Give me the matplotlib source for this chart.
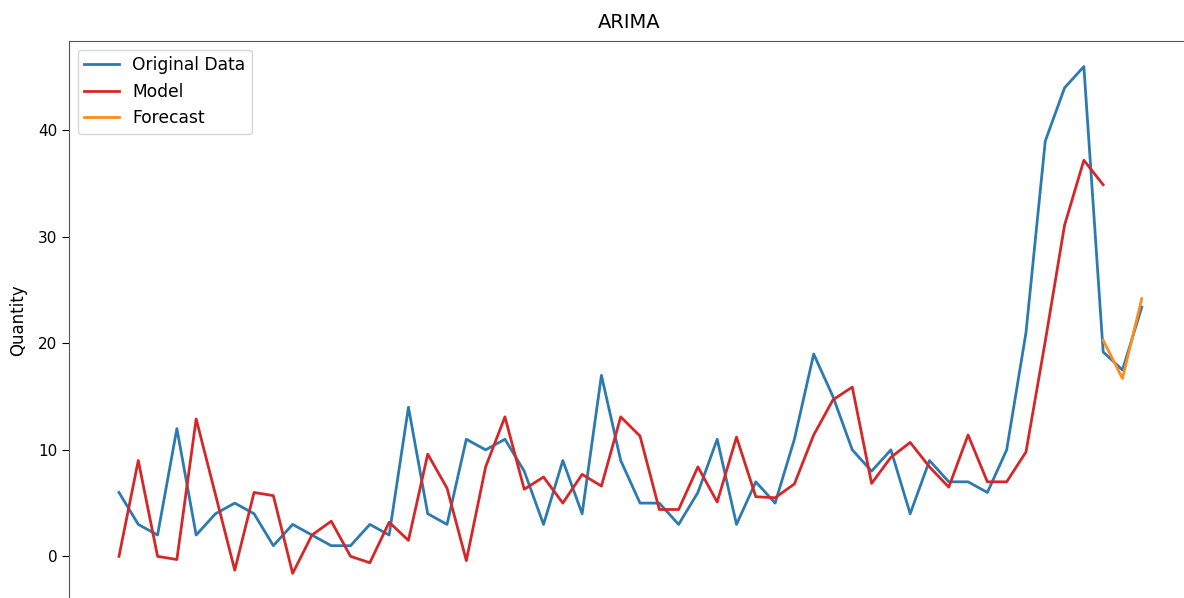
import numpy as np
import matplotlib
matplotlib.use("Agg")
import matplotlib.pyplot as plt

# Values (one point per period)
original = [6, 3, 2, 12, 2, 4, 5, 4, 1, 3,
            2, 1, 1, 3, 2, 14, 4, 3, 11, 10,
            11, 8, 3, 9, 4, 17, 9, 5, 5, 3,
            6, 11, 3, 7, 5, 11, 19, 15, 10, 8,
            10, 4, 9, 7, 7, 6, 10, 21, 39, 44,
            46, 19.2, 17.5, 23.4]
model = [0, 9.0, 0, -0.3, 12.9, 5.8, -1.3, 6.0, 5.7, -1.6,
         2.0, 3.3, 0, -0.6, 3.2, 1.5, 9.6, 6.4, -0.4, 8.4,
         13.1, 6.3, 7.45, 5.0, 7.7, 6.6, 13.1, 11.3, 4.4, 4.4,
         8.4, 5.1, 11.2, 5.6, 5.5, 6.8, 11.4, 14.7, 15.9, 6.85,
         9.3, 10.7, 8.4, 6.5, 11.4, 7.0, 7.0, 9.8, 20.2, 31.1,
         37.2, 34.9]
forecast = [20.3, 16.7, 24.2]

x_orig = np.arange(len(original))
x_model = np.arange(len(model))
x_fc = np.arange(len(original) - len(forecast), len(original))

fig = plt.figure(figsize=(11.84, 5.98), dpi=100)
# the source picture is a crop: right and bottom spines sit just outside
ax = fig.add_axes([69 / 1184, -2 / 598, (1190 - 69) / 1184, (600 - 41) / 598])

ax.plot(x_orig, original, color="#2b7bb0", lw=2, label="Original Data")
ax.plot(x_model, model, color="#d62728", lw=2, label="Model")
ax.plot(x_fc, forecast, color="#ff8c1a", lw=2, label="Forecast")

ax.set_xlim(-2.59, 55.5)
ax.set_ylim(-4.1, 48.4)
ax.set_yticks([0, 10, 20, 30, 40])
ax.set_xticks([])
ax.tick_params(axis="y", labelsize=11, length=5)
ax.set_title("ARIMA", fontsize=14, pad=9)
ax.set_ylabel("Quantity", fontsize=12, labelpad=8)
ax.legend(loc="upper left", fontsize=12.3)
for s in ax.spines.values():
    s.set_color("#555555")

fig.savefig("out.png", dpi=100)
